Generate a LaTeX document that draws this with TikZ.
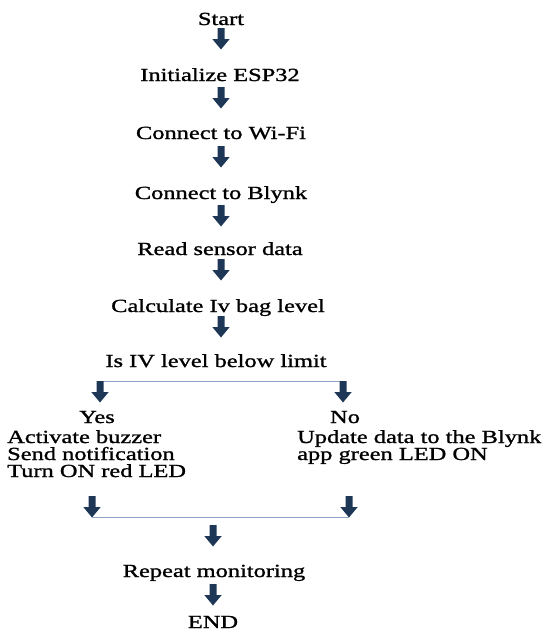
\documentclass[tikz,border=0pt]{standalone}
\usepackage{fontspec}
\setmainfont{Liberation Serif}[FakeStretch=1.32,FakeBold=1.2]
\definecolor{arrowblue}{RGB}{31,55,87}
\definecolor{linkblue}{RGB}{140,165,200}
\newcommand{\blockarrow}[1]{%
  \fill[arrowblue] (#1) ++(-3.5,0) -- ++(7,0) -- ++(0,11) -- ++(5.2,0)
    -- ++(-8.7,10.5) -- ++(-8.7,-10.5) -- ++(5.2,0) -- cycle;}
\begin{document}
\begin{tikzpicture}[x=1pt,y=-1pt,
  txt/.style={inner sep=0pt, anchor=base, font=\fontsize{18.5}{19}\selectfont},
  txtl/.style={txt, anchor=base west},
  link/.style={draw=linkblue, line width=1pt}]
\useasboundingbox (0,0) rectangle (548,632);
% main column
\node[txt] (start) at (221,25) {Start};
\node[txt] (init)  at (220,81) {Initialize ESP32};
\node[txt] (wifi)  at (221,139) {Connect to Wi-Fi};
\node[txt] (blynk) at (221,199) {Connect to Blynk};
\node[txt] (read)  at (220,255) {Read sensor data};
\node[txt] (calc)  at (218,312) {Calculate Iv bag level};
\node[txt] (isiv)  at (216,367) {Is IV level below limit};
% branches
\node[txt] (yes) at (97,423) {Yes};
\node[txtl] (y1) at (7,443) {Activate buzzer};
\node[txtl] (y2) at (7,460) {Send notification};
\node[txtl] (y3) at (7,477) {Turn ON red LED};
\node[txt] (no) at (345,423) {No};
\node[txtl] (n1) at (297,443) {Update data to the Blynk};
\node[txtl] (n2) at (297,460) {app green LED ON};
% end
\node[txt] (rep) at (214,577) {Repeat monitoring};
\node[txt] (end) at (213,628) {END};
% arrow anchors
\coordinate (a1) at (221,28);
\coordinate (a2) at (221,87);
\coordinate (a3) at (221,146);
\coordinate (a4) at (221,205);
\coordinate (a5) at (221,259);
\coordinate (a6) at (221,316);
\coordinate (bl) at (100,381);
\coordinate (br) at (343,381);
\coordinate (jl) at (92,496);
\coordinate (jr) at (349,496);
\coordinate (jlb) at (92,517);
\coordinate (jrb) at (349,517);
\coordinate (a7) at (213,525);
\coordinate (a8) at (213,584);
% connectors
\draw[link] (bl) -- (br);
\draw[link] (jlb) -- (jrb);
\foreach \c in {a1,a2,a3,a4,a5,a6,bl,br,jl,jr,a7,a8}{\blockarrow{\c}}
\end{tikzpicture}
\end{document}
